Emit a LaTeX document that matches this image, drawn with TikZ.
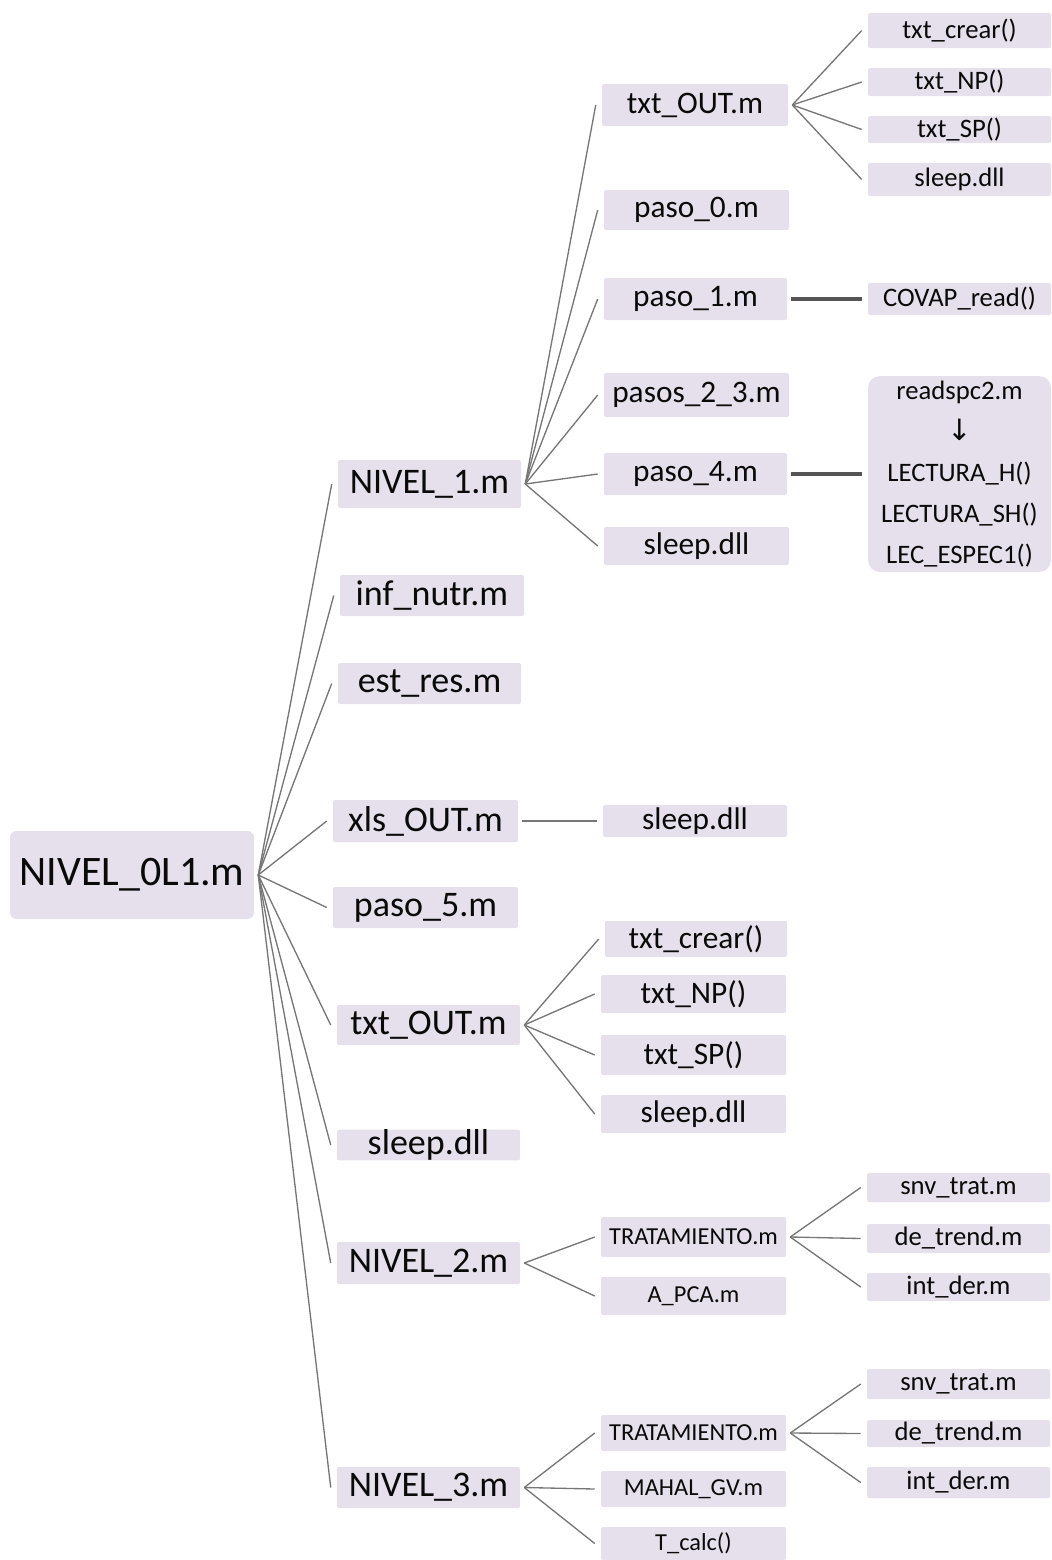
\documentclass[tikz,border=0pt]{standalone}
\usepackage{fontspec}
\setmainfont{Carlito}
\newfontfamily\arrowfont{DejaVu Sans}
\definecolor{boxfill}{HTML}{E6E0EC}
\definecolor{ink}{HTML}{0A0A0A}
\definecolor{wire}{HTML}{767676}
\definecolor{wirebold}{HTML}{555555}

% node placed from two corners given in pixels:
% name, style, x1, y1, x2, y2, text
\newcommand\pxbox[7]{%
  \node[#2, minimum width={(#5-#3)*0.75pt}, minimum height={(#6-#4)*0.75pt}]
    (#1) at ({(#3+#5)/2},{(#4+#6)/2}) {#7};}

\tikzset{
  box/.style={rectangle, fill=boxfill, text=ink, inner sep=0pt, rounded corners=1.5pt},
  rootbox/.style={box, rounded corners=5pt, font=\fontsize{31.5}{36}\selectfont},
  lvlone/.style={box, font=\fontsize{27}{31}\selectfont},
  lvltwo/.style={box, font=\fontsize{23.5}{27}\selectfont},
  lvltwosmall/.style={box, font=\fontsize{18.3}{22}\selectfont},
  lvlthree/.style={box, font=\fontsize{20}{24}\selectfont},
  conn/.style={draw=wire, line width=1pt},
  connbold/.style={draw=wirebold, line width=2.8pt},
}

\begin{document}
\begin{tikzpicture}[x=0.75pt, y=-0.75pt]
\useasboundingbox (0,0) rectangle (1052,1560);

% root
\pxbox{root}{rootbox}{10}{831}{254}{919}{NIVEL\_0L1.m}

% first level
\pxbox{n1}{lvlone}{338}{460}{521}{508}{NIVEL\_1.m}
\pxbox{infn}{lvlone}{340}{575}{524}{616}{inf\_nutr.m}
\pxbox{estr}{lvlone}{338}{663}{521}{704}{est\_res.m}
\pxbox{xls}{lvlone}{333}{800}{518}{842}{xls\_OUT.m}
\pxbox{p5}{lvlone}{333}{887}{518}{928}{paso\_5.m}
\pxbox{txtb}{lvlone}{337}{1005}{520}{1045}{txt\_OUT.m}
\pxbox{slp}{lvlone}{337}{1130}{520}{1160}{sleep.dll}
\pxbox{n2}{lvlone}{337}{1242}{520}{1284}{NIVEL\_2.m}
\pxbox{n3}{lvlone}{337}{1467}{520}{1508}{NIVEL\_3.m}

% second level
\pxbox{txta}{lvltwo}{602}{84}{788}{126}{txt\_OUT.m}
\pxbox{p0}{lvltwo}{604}{190}{789}{230}{paso\_0.m}
\pxbox{p1}{lvltwo}{604}{278}{787}{320}{paso\_1.m}
\pxbox{p23}{lvltwo}{604}{373}{789}{417}{pasos\_2\_3.m}
\pxbox{p4}{lvltwo}{604}{453}{787}{495}{paso\_4.m}
\pxbox{slpa}{lvltwo}{604}{527}{789}{565}{sleep.dll}
\pxbox{slpx}{lvltwo}{603}{805}{787}{837}{sleep.dll}
\pxbox{tcb}{lvltwo}{605}{921}{787}{957}{txt\_crear()}
\pxbox{tnb}{lvltwo}{601}{975}{786}{1013}{txt\_NP()}
\pxbox{tsb}{lvltwo}{601}{1035}{786}{1075}{txt\_SP()}
\pxbox{slb}{lvltwo}{601}{1095}{786}{1133}{sleep.dll}
\pxbox{tr2}{lvltwosmall}{601}{1217}{786}{1257}{TRATAMIENTO.m}
\pxbox{apca}{lvltwosmall}{601}{1277}{786}{1315}{A\_PCA.m}
\pxbox{tr3}{lvltwosmall}{601}{1415}{786}{1451}{TRATAMIENTO.m}
\pxbox{mahal}{lvltwosmall}{601}{1471}{786}{1507}{MAHAL\_GV.m}
\pxbox{tcalc}{lvltwosmall}{601}{1527}{786}{1560}{T\_calc()}

% third level
\pxbox{tca}{lvlthree}{868}{13}{1051}{48}{txt\_crear()}
\pxbox{tna}{lvlthree}{868}{68}{1051}{96}{txt\_NP()}
\pxbox{tsa}{lvlthree}{868}{116}{1051}{143}{txt\_SP()}
\pxbox{sla}{lvlthree}{868}{163}{1051}{196}{sleep.dll}
\pxbox{covap}{lvlthree}{868}{283}{1051}{315}{COVAP\_read()}
\pxbox{rdspc}{lvlthree, rounded corners=9pt, align=center,
  font=\fontsize{20}{30.75}\selectfont}{868}{376}{1051}{572}%
  {readspc2.m\\{\arrowfont\fontsize{22}{20}\selectfont ↓}\\LECTURA\_H()\\LECTURA\_SH()\\LEC\_ESPEC1()}
\pxbox{snv2}{lvlthree}{867}{1173}{1050}{1202}{snv\_trat.m}
\pxbox{det2}{lvlthree}{867}{1224}{1050}{1253}{de\_trend.m}
\pxbox{int2}{lvlthree}{867}{1273}{1050}{1301}{int\_der.m}
\pxbox{snv3}{lvlthree}{867}{1369}{1050}{1399}{snv\_trat.m}
\pxbox{det3}{lvlthree}{867}{1420}{1050}{1447}{de\_trend.m}
\pxbox{int3}{lvlthree}{867}{1467}{1050}{1498}{int\_der.m}

% connectors: parent east to child west, with a small gap at both ends
\foreach \mom/\kids in {root/{n1,infn,estr,xls,p5,txtb,slp,n2,n3},
                        n1/{txta,p0,p1,p23,p4,slpa},
                        txta/{tca,tna,tsa,sla},
                        xls/{slpx},
                        txtb/{tcb,tnb,tsb,slb},
                        n2/{tr2,apca},
                        tr2/{snv2,det2,int2},
                        n3/{tr3,mahal,tcalc},
                        tr3/{snv3,det3,int3}}
  \foreach \kid in \kids
    \draw[conn] ([xshift=3pt]\mom.east) -- ([xshift=-4.5pt]\kid.west);

\draw[connbold] ([xshift=3pt]p1.east) -- ([xshift=-4.5pt]covap.west);
\draw[connbold] ([xshift=3pt]p4.east) -- ([xshift=-4.5pt]rdspc.west);
\end{tikzpicture}
\end{document}
